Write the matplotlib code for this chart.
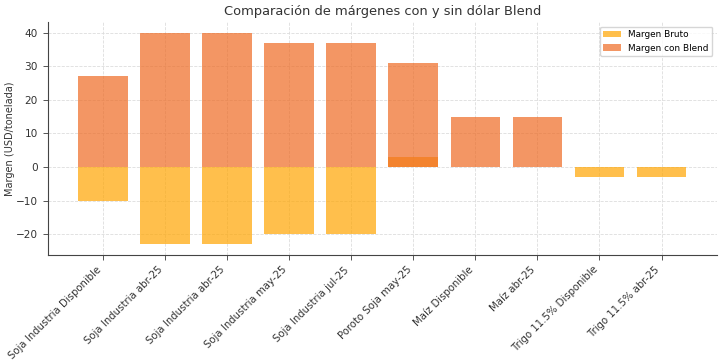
import matplotlib.pyplot as plt
import numpy as np

# Datos del gráfico
categorias = ["Soja Industria Disponible", "Soja Industria abr-25", "Soja Industria abr-25",
              "Soja Industria may-25", "Soja Industria jul-25", "Poroto Soja may-25",
              "Maíz Disponible", "Maíz abr-25", "Trigo 11.5% Disponible", "Trigo 11.5% abr-25"]
margen_bruto = [-10, -23, -23, -20, -20, 3, 0, 0, -3, -3]
margen_blend = [27, 40, 40, 37, 37, 31, 15, 15, 0, 0]

x = np.arange(len(categorias))

fig, ax = plt.subplots(figsize=(7.24, 3.62), dpi=100)
ax.bar(x, margen_bruto, width=0.8, color='orange', alpha=0.7, label='Margen Bruto')
ax.bar(x, margen_blend, width=0.8, color='#EE6A22', alpha=0.7, label='Margen con Blend')

ax.set_xticks(x)
ax.set_xticklabels(categorias, rotation=45, ha='right', fontsize=7.3, color='#333333')
ax.tick_params(axis='y', labelsize=7.6, labelcolor='#333333')
ax.tick_params(axis='both', color='#555555', width=0.7)
ax.set_ylabel("Margen (USD/tonelada)", fontsize=7.0, color='#333333', labelpad=1)
ax.set_title("Comparación de márgenes con y sin dólar Blend", fontsize=9.4, color='#333333', pad=5)
ax.grid(True, linestyle='--', linewidth=0.6, color='#dddddd')
ax.set_axisbelow(True)
for s in ['top', 'right']:
    ax.spines[s].set_visible(False)
ax.spines['left'].set_color('#444444')
ax.spines['bottom'].set_color('#444444')
ax.legend(fontsize=6.4, loc='upper right')

fig.subplots_adjust(left=0.066, right=0.99, top=0.939, bottom=0.296)
fig.savefig("out.png")
